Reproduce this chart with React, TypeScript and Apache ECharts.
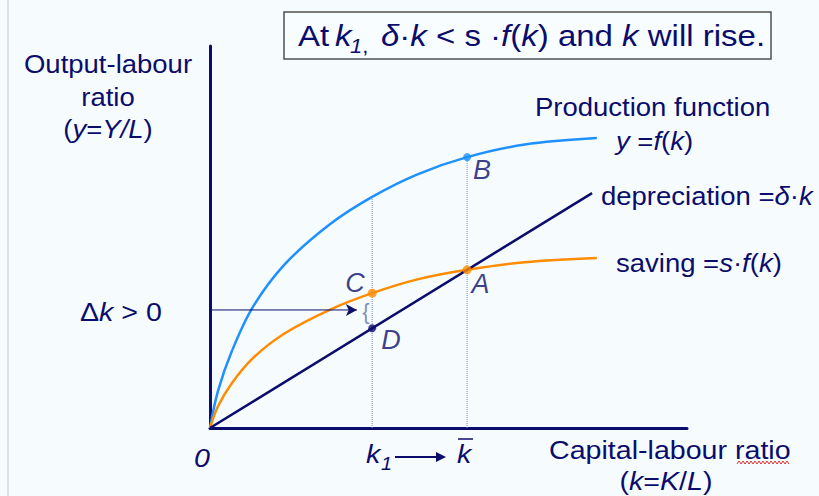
import React, { useEffect, useRef } from 'react';
import * as echarts from 'echarts';

// ---- data ----
const kRange = [0, 100];
const yRange = [0, 100];
const prodK = [0, 1.68, 4.61, 9.0, 15.7, 25.2, 34, 43.5, 53.9, 66, 81.1];
const prodY = [0, 9.7, 20.2, 31.7, 42.9, 53.4, 60.5, 66.4, 70.9, 74.2, 75.9];
const saveK = [0, 1.68, 4.61, 9.0, 15.7, 25.2, 34, 43.5, 53.9, 66, 81.1];
const saveY = [0, 5.7, 11.8, 18.3, 24.8, 31.0, 35.3, 38.9, 41.4, 43.4, 44.5];
const deprK = [0, 80.1];
const deprY = [0, 61.5];
const k1 = 34;
const kBar = 53.9;
const pointB = [53.9, 70.9];
const pointA = [53.9, 41.4];
const pointC = [34, 35.3];
const pointD = [34, 26.1];
const arrowK = [-10.1, 30.8];
const arrowY = 30.9;
const brace = [32.7, 30.6];

const NAVY = '#0c0c6c';
const BLUE = '#1e90ff';
const ORANGE = '#ff8c00';
const DOT = '#7d8cc4';
const FONT = '"Liberation Sans", Arial, Helvetica, sans-serif';
const SX = 1.1;

const zip = (a: number[], b: number[]) => a.map((v, i) => [v, b[i]]);

const richFor = (size: number, color = NAVY) => ({
  i: { fontStyle: 'italic', fontSize: size, fontFamily: FONT, fill: color },
});

const T = (x: number, y: number, text: string, size: number, extra: any = {}) => ({
  type: 'text',
  x,
  y,
  scaleX: SX,
  z: 10,
  style: {
    text,
    fontSize: size,
    fontFamily: FONT,
    fill: NAVY,
    align: 'left',
    verticalAlign: 'middle',
    rich: richFor(size),
    ...extra,
  },
});

function buildOption(): any {
  const squiggle: number[][] = [];
  for (let x = 737, j = 0; x <= 790; x += 2, j++) squiggle.push([x, j % 2 ? 461 : 464]);

  const labelStyle = {
    show: true,
    fontSize: 27,
    fontStyle: 'italic',
    fontFamily: FONT,
    color: NAVY,
    verticalAlign: 'middle',
  };

  return {
    animation: false,
    backgroundColor: '#f6fcfe',
    grid: { left: 210, top: 46, width: 477, height: 382 },
    xAxis: {
      type: 'value',
      min: kRange[0],
      max: kRange[1],
      axisLine: { show: true, lineStyle: { color: NAVY, width: 3 } },
      axisTick: { show: false },
      axisLabel: { show: false },
      splitLine: { show: false },
    },
    yAxis: {
      type: 'value',
      min: yRange[0],
      max: yRange[1],
      axisLine: { show: true, lineStyle: { color: NAVY, width: 3 } },
      axisTick: { show: false },
      axisLabel: { show: false },
      splitLine: { show: false },
    },
    series: [
      {
        type: 'line',
        data: [[k1, 0], [k1, prodY[6]]],
        symbol: 'none',
        lineStyle: { color: DOT, width: 1, type: 'dotted' },
        z: 1,
      },
      {
        type: 'line',
        data: [[kBar, 0], [kBar, pointB[1]]],
        symbol: 'none',
        lineStyle: { color: DOT, width: 1, type: 'dotted' },
        z: 1,
      },
      {
        name: 'production',
        type: 'line',
        data: zip(prodK, prodY),
        smooth: 0.35,
        symbol: 'none',
        lineStyle: { color: BLUE, width: 2.5 },
        z: 3,
      },
      {
        name: 'saving',
        type: 'line',
        data: zip(saveK, saveY),
        smooth: 0.35,
        symbol: 'none',
        lineStyle: { color: ORANGE, width: 2.5 },
        z: 3,
      },
      {
        name: 'depreciation',
        type: 'line',
        data: zip(deprK, deprY),
        symbol: 'none',
        lineStyle: { color: NAVY, width: 2.5 },
        z: 3,
      },
      {
        name: 'arrow',
        type: 'line',
        clip: false,
        data: [
          { value: [arrowK[0], arrowY], symbol: 'none' },
          { value: [arrowK[1], arrowY], symbol: 'arrow', symbolSize: [9, 11], symbolRotate: -90 },
        ],
        showSymbol: true,
        itemStyle: { color: NAVY },
        lineStyle: { color: NAVY, width: 1 },
        z: 4,
      },
      {
        type: 'scatter',
        data: [{ value: pointB, name: 'B' }],
        symbolSize: 8,
        itemStyle: { color: BLUE },
        label: { ...labelStyle, formatter: '{b}', position: [10, 17], align: 'left' },
        z: 5,
      },
      {
        type: 'scatter',
        data: [
          { value: pointA, name: 'A', label: { position: [9, 19], align: 'left' } },
          { value: pointC, name: 'C', label: { position: [-3, -6], align: 'right' } },
        ],
        symbolSize: 9,
        itemStyle: { color: ORANGE },
        label: { ...labelStyle, formatter: '{b}' },
        z: 5,
      },
      {
        type: 'scatter',
        data: [{ value: pointD, name: 'D' }],
        symbolSize: 8,
        itemStyle: { color: NAVY },
        label: { ...labelStyle, formatter: '{b}', position: [13, 16], align: 'left' },
        z: 5,
      },
      {
        type: 'scatter',
        data: [{ value: brace, name: '{' }],
        symbolSize: 1,
        itemStyle: { color: 'rgba(0,0,0,0)' },
        label: {
          show: true,
          formatter: '{',
          position: 'inside',
          fontSize: 22,
          fontFamily: FONT,
          color: '#6272a8',
        },
        z: 5,
      },
    ],
    graphic: [
      { type: 'line', shape: { x1: 8, y1: 0, x2: 8, y2: 496 }, style: { stroke: '#c4c4c4', lineWidth: 1 } },
      {
        type: 'rect',
        shape: { x: 284, y: 12, width: 487, height: 47 },
        style: { fill: '#f8fdff', stroke: '#505050', lineWidth: 1.5 },
        z: 5,
      },
      T(298, 36, 'At', 30),
      T(335, 36, '{i|k}', 30),
      T(350, 46, '{i|1},', 20, { rich: richFor(20) }),
      T(381, 36, '{i|δ}·{i|k} < s ·{i|f}({i|k}) and {i|k} will rise.', 30),

      T(108, 64, 'Output-labour', 25, { align: 'center' }),
      T(108, 97, 'ratio', 25, { align: 'center' }),
      T(108, 129, '({i|y}={i|Y/L})', 25, { align: 'center' }),

      T(535, 107, 'Production function', 25),
      T(616, 141, '{i|y} ={i|f}({i|k})', 25),
      T(601, 196, 'depreciation ={i|δ}·{i|k}', 25),
      T(616, 263, 'saving ={i|s}·{i|f}({i|k})', 25),

      T(80, 312, 'Δ{i|k} > 0', 26),
      T(202, 458, '{i|0}', 26, { align: 'center' }),

      T(366, 454, '{i|k}', 26),
      T(381, 464, '{i|1}', 18, { rich: richFor(18) }),
      { type: 'line', shape: { x1: 395, y1: 457, x2: 438, y2: 457 }, style: { stroke: NAVY, lineWidth: 2 } },
      { type: 'polygon', shape: { points: [[436, 452], [446, 457], [436, 462]] }, style: { fill: NAVY } },
      T(457, 454, '{i|k}', 26),
      { type: 'line', shape: { x1: 458, y1: 439, x2: 473, y2: 439 }, style: { stroke: NAVY, lineWidth: 1.5 } },

      T(549, 450, 'Capital-labour ratio', 26),
      T(666, 481, '({i|k}={i|K}/{i|L})', 26, { align: 'center' }),
      { type: 'polyline', shape: { points: squiggle }, style: { stroke: '#e03030', lineWidth: 1, fill: null } },
    ],
  };
}

export default function App() {
  const ref = useRef<HTMLDivElement>(null);
  useEffect(() => {
    document.body.style.margin = '0';
    const chart = echarts.init(ref.current!, null, { renderer: 'svg' });
    chart.setOption(buildOption());
    return () => chart.dispose();
  }, []);
  return <div ref={ref} style={{ width: 819, height: 496 }} />;
}
